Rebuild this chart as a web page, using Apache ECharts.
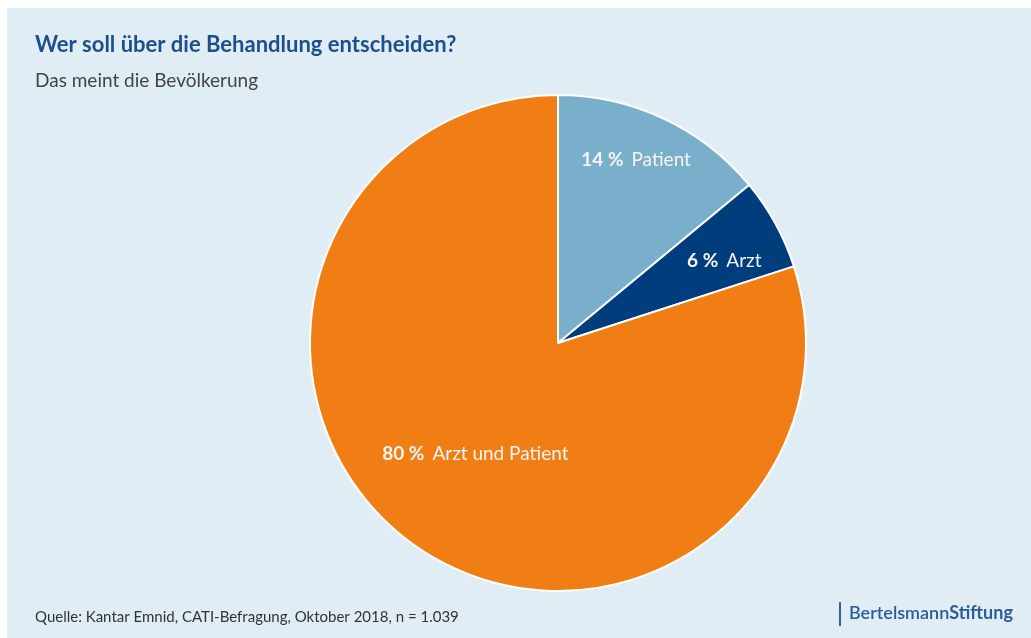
<!DOCTYPE html>
<html>
<head>
<meta charset="utf-8">
<script src="https://cdn.jsdelivr.net/npm/echarts@6/dist/echarts.min.js"></script>
<style>
html,body{margin:0;padding:0;background:#fff;}
#c{width:1031px;height:638px;}
</style>
</head>
<body>
<div id="c"></div>
<script>
var categories = ['Patient', 'Arzt', 'Arzt und Patient'];
var values = [14, 6, 80];
var colors = ['#7AAFCB', '#003D7D', '#F07E14'];
var labelOffsets = [[24, -68], [55, -21], [-8, 8]];

var chart = echarts.init(document.getElementById('c'));
var font = 'Lato, "Open Sans", sans-serif';
chart.setOption({
  backgroundColor: '#ffffff',
  animation: false,
  graphic: [
    { type: 'rect', shape: { x: 7, y: 8, width: 1030, height: 640 }, style: { fill: '#E1EDF5' }, z: -10 },
    { type: 'rect', shape: { x: 839, y: 602, width: 2, height: 24 }, style: { fill: '#2F64A0' } },
    { type: 'text', left: 849, top: 604, style: {
        rich: {
          a: { fontFamily: font, fontSize: 18, fontWeight: 600, fill: '#2A5D97' },
          b: { fontFamily: font, fontSize: 18, fontWeight: 'bold', fill: '#2A5D97' }
        },
        text: '{a|Bertelsmann}{b|Stiftung}'
      } }
  ],
  title: [
    { text: 'Wer soll über die Behandlung entscheiden?', left: 35, top: 34, padding: 0,
      textStyle: { fontFamily: font, fontSize: 22, fontWeight: 'bold', color: '#1C4F8B' } },
    { text: 'Das meint die Bevölkerung', left: 35, top: 71, padding: 0,
      textStyle: { fontFamily: font, fontSize: 19, fontWeight: 'normal', color: '#444444' } },
    { text: 'Quelle: Kantar Emnid, CATI-Befragung, Oktober 2018, n = 1.039', left: 35, top: 610, padding: 0,
      textStyle: { fontFamily: font, fontSize: 15, fontWeight: 'normal', color: '#333333' } }
  ],
  series: [{
    type: 'pie',
    center: [558, 343],
    radius: [0, 248],
    startAngle: 90,
    clockwise: true,
    silent: true,
    itemStyle: { borderColor: '#ffffff', borderWidth: 2 },
    label: {
      show: true,
      position: 'inside',
      formatter: function (p) { return '{b|' + p.value + ' %}{n|' + p.name + '}'; },
      rich: {
        b: { fontFamily: font, fontSize: 19, fontWeight: 'bold', color: '#F4F4F4', padding: [0, 8, 0, 0] },
        n: { fontFamily: font, fontSize: 19, fontWeight: 'normal', color: '#F4F4F4' }
      }
    },
    labelLayout: function (p) {
      var o = labelOffsets[p.dataIndex];
      return { dx: o[0], dy: o[1] };
    },
    data: categories.map(function (c, i) {
      return { name: c, value: values[i], itemStyle: { color: colors[i] } };
    })
  }]
});
</script>
</body>
</html>
